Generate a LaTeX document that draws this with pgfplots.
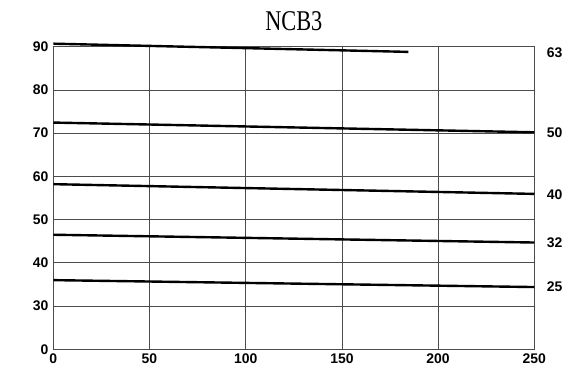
\documentclass[border=0pt]{standalone}
\usepackage{fontspec}
\setmainfont{Liberation Sans}
\newfontfamily\titlefont[FakeStretch=0.78]{Liberation Serif}
\usepackage{pgfplots}
\pgfplotsset{compat=1.18}
\begin{document}
\begin{tikzpicture}
\begin{axis}[
  scale only axis,
  width=481bp, height=302.6bp,
  xmin=0, xmax=250, ymin=20, ymax=90,
  xtick={0,50,100,150,200,250},
  ytick={20,30,40,50,60,70,80,90},
  yticklabels={0,30,40,50,60,70,80,90},
  grid=major,
  major grid style={black!70, line width=0.8bp},
  axis line style={black!70, line width=0.8bp},
  major tick length=0pt,
  tick label style={font=\fontsize{14}{16}\selectfont\bfseries},
  /pgf/number format/assume math mode=true,
  yticklabel style={xshift=-1.5bp},
  xticklabel style={yshift=-1bp},
  clip=false,
]
\addplot[black, line width=2.4bp] coordinates {(0,90.7) (184.5,88.8)};
\addplot[black, line width=2.4bp] coordinates {(0,72.45) (250,70.2)};
\addplot[black, line width=2.4bp] coordinates {(0,58.2) (250,55.95)};
\addplot[black, line width=2.4bp] coordinates {(0,46.5) (250,44.7)};
\addplot[black, line width=2.4bp] coordinates {(0,36.0) (250,34.4)};
\begin{scope}[every node/.style={anchor=west, xshift=9bp, font=\fontsize{14}{16}\selectfont\bfseries}]
\node at (axis cs:250,88.5) {63};
\node at (axis cs:250,70.0) {50};
\node at (axis cs:250,55.7) {40};
\node at (axis cs:250,44.6) {32};
\node at (axis cs:250,34.4) {25};
\end{scope}
\node[anchor=base, yshift=16.5bp, font=\titlefont\fontsize{28.7}{30}\selectfont] at (rel axis cs:0.5,1) {NCB3};
\end{axis}
\path (-53.3bp,-22.7bp) rectangle (527.7bp,349.3bp);
\end{tikzpicture}
\end{document}
